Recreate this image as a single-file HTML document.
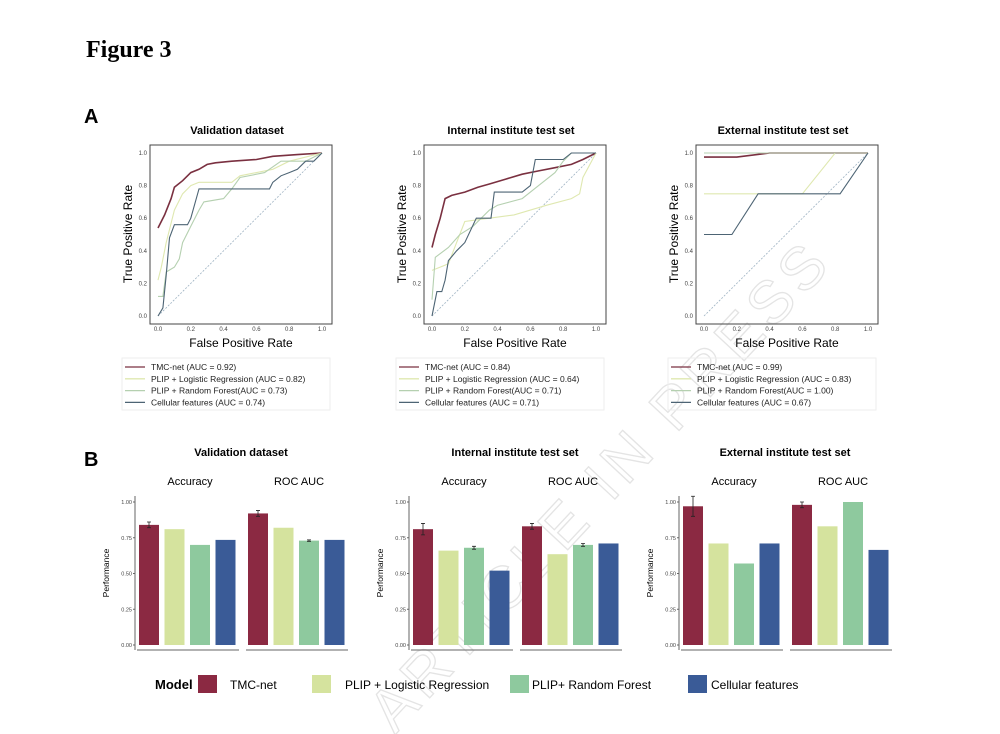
<!DOCTYPE html>
<html><head><meta charset="utf-8"><style>
body{margin:0;background:#fff;}
svg{display:block;font-family:"Liberation Sans",sans-serif;}
</style></head><body>
<svg id="fig" width="1000" height="734" viewBox="0 0 1000 734">
<text x="86" y="57" font-family="Liberation Serif,serif" font-weight="bold" font-size="24">Figure 3</text>
<text x="84" y="123" font-weight="bold" font-size="20">A</text>
<text x="84" y="466" font-weight="bold" font-size="20">B</text>
<text x="0" y="0" transform="translate(395,735) rotate(-47)" font-size="60" fill="none" stroke="#e4e4e4" stroke-width="1.3" letter-spacing="6">ARTICLE IN PRESS</text>
<g id="roc"></g><g id="bars"></g>
<g>
<text x="155" y="689" font-weight="bold" font-size="13">Model</text>
<rect x="198" y="675" width="19" height="18" fill="#8b2942"/>
<text x="230" y="689" font-size="12">TMC-net</text>
<rect x="312" y="675" width="19" height="18" fill="#d5e39e"/>
<text x="345" y="689" font-size="12">PLIP + Logistic Regression</text>
<rect x="510" y="675" width="19" height="18" fill="#8ec99e"/>
<text x="532" y="689" font-size="12">PLIP+ Random Forest</text>
<rect x="688" y="675" width="19" height="18" fill="#3a5b97"/>
<text x="711" y="689" font-size="12">Cellular features</text>
</g>
</svg>
<script>
const rocTitles=["Validation dataset","Internal institute test set","External institute test set"];
const rocNames=["TMC-net","PLIP + Logistic Regression","PLIP + Random Forest","Cellular features"];
const rocAuc=[["0.92","0.82","0.73","0.74"],["0.84","0.64","0.71","0.71"],["0.99","0.83","1.00","0.67"]];
const rocValTMC=[[0,.54],[.04,.62],[.08,.72],[.1,.79],[.15,.83],[.2,.88],[.25,.9],[.3,.93],[.35,.94],[.45,.95],[.6,.96],[.7,.98],[.85,.99],[1,1]];
const rocValLR=[[0,.22],[.02,.3],[.05,.45],[.1,.65],[.15,.75],[.2,.8],[.25,.82],[.45,.82],[.5,.86],[.7,.9],[.8,.95],[1,1]];
const rocValRF=[[0,.12],[.03,.12],[.05,.27],[.1,.3],[.13,.35],[.15,.45],[.2,.55],[.25,.65],[.28,.7],[.4,.72],[.45,.78],[.5,.85],[.65,.88],[.75,.95],[.9,.95],[1,1]];
const rocValCell=[[0,0],[.03,.05],[.05,.25],[.07,.48],[.1,.56],[.18,.56],[.2,.6],[.25,.78],[.68,.78],[.7,.82],[.75,.86],[.8,.88],[.85,.9],[.9,.95],[.95,.95],[1,1]];
const rocIntTMC=[[0,.42],[.02,.5],[.05,.6],[.08,.72],[.12,.74],[.2,.76],[.28,.79],[.35,.81],[.45,.84],[.55,.87],[.65,.89],[.75,.91],[.85,.93],[.92,.96],[1,1]];
const rocIntLR=[[0,.28],[.05,.3],[.1,.32],[.15,.45],[.2,.58],[.35,.6],[.5,.62],[.7,.68],[.85,.72],[.9,.75],[.92,.85],[1,1]];
const rocIntRF=[[0,.1],[.02,.36],[.1,.42],[.17,.5],[.25,.55],[.35,.65],[.4,.68],[.55,.72],[.65,.8],[.75,.88],[.8,.95],[.85,1],[1,1]];
const rocIntCell=[[0,0],[.03,.15],[.06,.15],[.08,.22],[.1,.34],[.15,.4],[.2,.45],[.27,.6],[.36,.6],[.38,.76],[.55,.76],[.6,.8],[.63,.96],[.8,.96],[.85,1],[1,1]];
const rocExtTMC=[[0,.975],[.2,.975],[.4,1],[1,1]];
const rocExtLR=[[0,.75],[.6,.75],[.8,1],[1,1]];
const rocExtRF=[[0,1],[1,1]];
const rocExtCell=[[0,.5],[.17,.5],[.33,.75],[.83,.75],[1,1]];
const rocSeries=[[rocValTMC,rocValLR,rocValRF,rocValCell],[rocIntTMC,rocIntLR,rocIntRF,rocIntCell],[rocExtTMC,rocExtLR,rocExtRF,rocExtCell]];
const rocTicks=["0.0","0.2","0.4","0.6","0.8","1.0"];

const barTitles=["Validation dataset","Internal institute test set","External institute test set"];
const barFacets=["Accuracy","ROC AUC"];
const barAcc=[[.84,.81,.70,.735],[.81,.66,.68,.52],[.97,.71,.57,.71]];
const barAccErr=[[.02,0,0,0],[.04,0,.01,0],[.07,0,0,0]];
const barAuc=[[.92,.82,.73,.735],[.83,.635,.70,.71],[.98,.83,1.0,.665]];
const barAucErr=[[.02,0,.005,0],[.02,0,.01,0],[.02,0,0,0]];
const barTicks=["0.00","0.25","0.50","0.75","1.00"];

const NS="http://www.w3.org/2000/svg";
function mk(p,t,a,txt){const e=document.createElementNS(NS,t);for(const k in a)e.setAttribute(k,a[k]);if(txt!=null)e.textContent=txt;p.appendChild(e);return e;}
const rocCol=["#7a3040","#dfe8b0","#b5d0b0","#4d6474"];
const roc=document.getElementById('roc');
const offs=[0,274,546];
for(let p=0;p<3;p++){
  const o=offs[p];
  const g=mk(roc,'g',{});
  
  
  const x0=158+o,x1=322+o,y0=316,y1=153;
  const sx=v=>x0+v*(x1-x0), sy=v=>y0+v*(y1-y0);
  const t=mk(g,'text',{x:(150+332)/2+o-4,y:134,'text-anchor':'middle','font-weight':'bold','font-size':11},rocTitles[p]);
  
  const b=mk(g,'rect',{x:150+o,y:145,width:182,height:179,fill:'none',stroke:'#444','stroke-width':1});
  
  rocTicks.forEach((tk,i)=>{const v=i/5;
    const a=mk(g,'text',{x:sx(v),y:331,'text-anchor':'middle','font-size':6,fill:'#444'},tk);
    
    const c=mk(g,'text',{x:147+o,y:sy(v)+2,'text-anchor':'end','font-size':6,fill:'#444'},tk);
    });
  const xt=mk(g,'text',{x:(150+332)/2+o,y:347,'text-anchor':'middle','font-size':12},'False Positive Rate');
  
  const yt=mk(g,'text',{x:0,y:0,transform:`translate(${132+o},234) rotate(-90)`,'text-anchor':'middle','font-size':12},'True Positive Rate');
  
  const d=mk(g,'line',{x1:sx(0),y1:sy(0),x2:sx(1),y2:sy(1),stroke:'#9fb3c3','stroke-width':0.8,'stroke-dasharray':'2,1.5'});
  
  for(let s=0;s<4;s++){
    const pts=rocSeries[p][s].map(q=>sx(q[0]).toFixed(1)+','+sy(q[1]).toFixed(1)).join(' ');
    const l=mk(g,'polyline',{points:pts,fill:'none',stroke:rocCol[s],'stroke-width':s==0?1.6:1.1});
    
  }
  const lg=mk(g,'g',{});
  
  mk(lg,'rect',{x:122+o,y:358,width:208,height:52,fill:'none',stroke:'#eee'});
  for(let s=0;s<4;s++){
    const yy=367+s*11.8;
    mk(lg,'line',{x1:125+o,x2:145+o,y1:yy,y2:yy,stroke:rocCol[s],'stroke-width':1.3});
    const name=s==2?rocNames[s]+'(AUC = '+rocAuc[p][s]+')':rocNames[s]+' (AUC = '+rocAuc[p][s]+')';
    const e=mk(lg,'text',{x:151+o,y:yy+3,'font-size':8.5,fill:'#222'},name);
    
  }
}
const barCol=["#8b2942","#d5e39e","#8ec99e","#3a5b97"];
const bars=document.getElementById('bars');
const axX=[135,409,679];
for(let p=0;p<3;p++){
  const ax=axX[p];
  const g=mk(bars,'g',{});
  
  const y0=645,y1=502,sy=v=>y0+v*(y1-y0);
  const t=mk(g,'text',{x:ax+106,y:456,'text-anchor':'middle','font-weight':'bold','font-size':11},barTitles[p]);
  
  mk(g,'line',{x1:ax,x2:ax,y1:496,y2:650,stroke:'#666','stroke-width':1});
  barTicks.forEach((tk,i)=>{const v=i/4;
    mk(g,'line',{x1:ax-2,x2:ax,y1:sy(v),y2:sy(v),stroke:'#666'});
    const e=mk(g,'text',{x:ax-3,y:sy(v)+2,'text-anchor':'end','font-size':5.5,fill:'#444'},tk);
    });
  const yt=mk(g,'text',{x:0,y:0,transform:`translate(${ax-26},573) rotate(-90)`,'text-anchor':'middle','font-size':8.5},'Performance');
  
  [barAcc[p],barAuc[p]].forEach((vals,f)=>{
    const errs=f==0?barAccErr[p]:barAucErr[p];
    const fx=ax+4+f*109;
    mk(g,'line',{x1:fx-2,x2:fx+100,y1:650,y2:650,stroke:'#666'});
    const fl=mk(g,'text',{x:fx+51,y:485,'text-anchor':'middle','font-size':11},barFacets[f]);
    
    vals.forEach((v,i)=>{
      const bx=fx+i*25.5;
      const r=mk(g,'rect',{x:bx,y:sy(v),width:20,height:y0-sy(v),fill:barCol[i]});
      
      if(errs[i]>0){const cx=bx+10;
        mk(g,'path',{d:`M${cx-2},${sy(v+errs[i])}H${cx+2}M${cx},${sy(v+errs[i])}V${sy(v-errs[i])}M${cx-2},${sy(v-errs[i])}H${cx+2}`,stroke:'#222','stroke-width':0.8,fill:'none'});}
    });
  });
}
</script>
</body></html>
